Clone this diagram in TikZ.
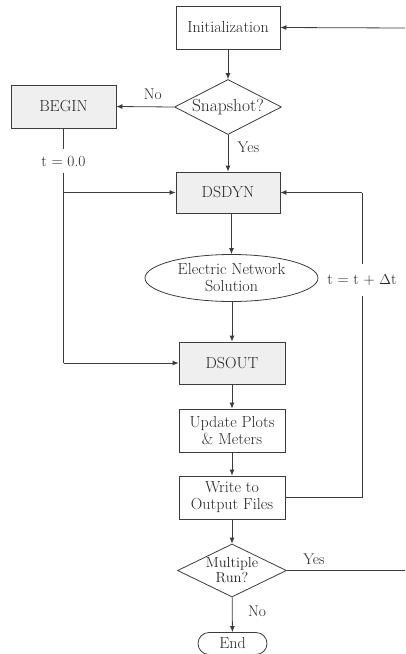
\documentclass[tikz,border=0pt]{standalone}
\usetikzlibrary{arrows.meta,shapes.geometric}

\definecolor{boxgray}{HTML}{EFEFEF}
\definecolor{linegray}{HTML}{3C3C3C}
\definecolor{textgray}{HTML}{262626}

\tikzset{
  block/.style={draw=linegray,thick,minimum width=104pt,minimum height=43pt,inner sep=1pt,align=center,text=textgray,font=\fontsize{16}{17}\selectfont},
  grayblock/.style={block,fill=boxgray},
  decision/.style={diamond,draw=linegray,thick,inner sep=0pt,aspect=2,align=center,text=textgray},
  flow/.style={draw=linegray,thick,-{Latex[length=6pt,width=5pt]}},
  lbl/.style={font=\fontsize{15.5}{16}\selectfont,text=textgray}
}

\begin{document}
\begin{tikzpicture}[x=1pt,y=-1pt]
        \useasboundingbox (0,0) rectangle (405,654);
        \node[block] (init) at (228,27.5) {Initialization};
        \node[decision,minimum width=107pt,minimum height=55pt,font=\fontsize{17.5}{18}\selectfont] (snap) at (228,107) {Snapshot?};
        \node[grayblock,minimum width=105pt] (begin) at (63.5,106.5) {BEGIN};
        \node[grayblock,minimum height=41pt] (dsdyn) at (228,192.5) {DSDYN};
        \node[ellipse,draw=linegray,thick,inner sep=0pt,minimum width=173pt,minimum height=47pt,align=center,text=textgray,font=\fontsize{16}{17}\selectfont] (ens) at (231.5,278) {Electric Network\\Solution};
        \node[grayblock,minimum width=106pt,minimum height=42pt] (dsout) at (232,363) {DSOUT};
        \node[block,minimum width=106pt] (plots) at (232,430.5) {Update Plots\\\& Meters};
        \node[block,minimum width=106pt] (write) at (232,497.5) {Write to\\Output Files};
        \node[decision,minimum width=109pt,minimum height=53pt,font=\fontsize{14.5}{15}\selectfont] (multi) at (232,570.5) {Multiple\\Run?};
        \node[draw=linegray,thick,rounded corners=11pt,minimum width=69pt,minimum height=22pt,inner sep=0pt,text=textgray,font=\fontsize{16}{17}\selectfont] (stop) at (232.5,643.5) {End};
        \coordinate (backin) at (405,28);
        \coordinate (backout) at (405,570.5);
        \coordinate (loopx) at (362,497.5);

        % main column
        \draw[flow] (backin) -- (init.east);
        \draw[flow] (init) -- (snap);
        \draw[flow] (snap.west) -- (begin.east) node[lbl,pos=0.37,above,yshift=3pt] {No};
        \draw[flow] (snap) -- (dsdyn) node[lbl,pos=0.35,right,xshift=6pt] {Yes};
        \draw[flow] (dsdyn.south -| ens.north) -- (ens.north);
        \draw[flow] (ens.south -| dsout.north) -- (dsout.north);
        \draw[flow] (dsout) -- (plots);
        \draw[flow] (plots) -- (write);
        \draw[flow] (write) -- (multi);
        \draw[flow] (multi) -- (stop) node[lbl,pos=0.4,right,xshift=12pt] {No};
        \draw[draw=linegray,thick] (multi.east) -- (backout) node[lbl,pos=0.23,above,yshift=2pt] {Yes};

        % BEGIN branch
        \draw[draw=linegray,thick] (begin.south) -- (begin.south |- dsout.west)
          node[lbl,pos=0.14,fill=white,inner sep=1pt,minimum height=24pt] {t = 0.0};
        \draw[flow] (begin.south |- dsout.west) -- (dsout.west);
        \draw[flow] (begin.south |- dsdyn.west) -- (dsdyn.west);

        % time step loop
        \draw[draw=linegray,thick] (write.east) -- (loopx) -- (loopx |- dsdyn.east)
          node[lbl,pos=0.712,fill=white,inner sep=1pt,minimum height=32pt] {t = t + $\Delta$t};
        \draw[flow] (loopx |- dsdyn.east) -- (dsdyn.east);
    \end{tikzpicture}
\end{document}
